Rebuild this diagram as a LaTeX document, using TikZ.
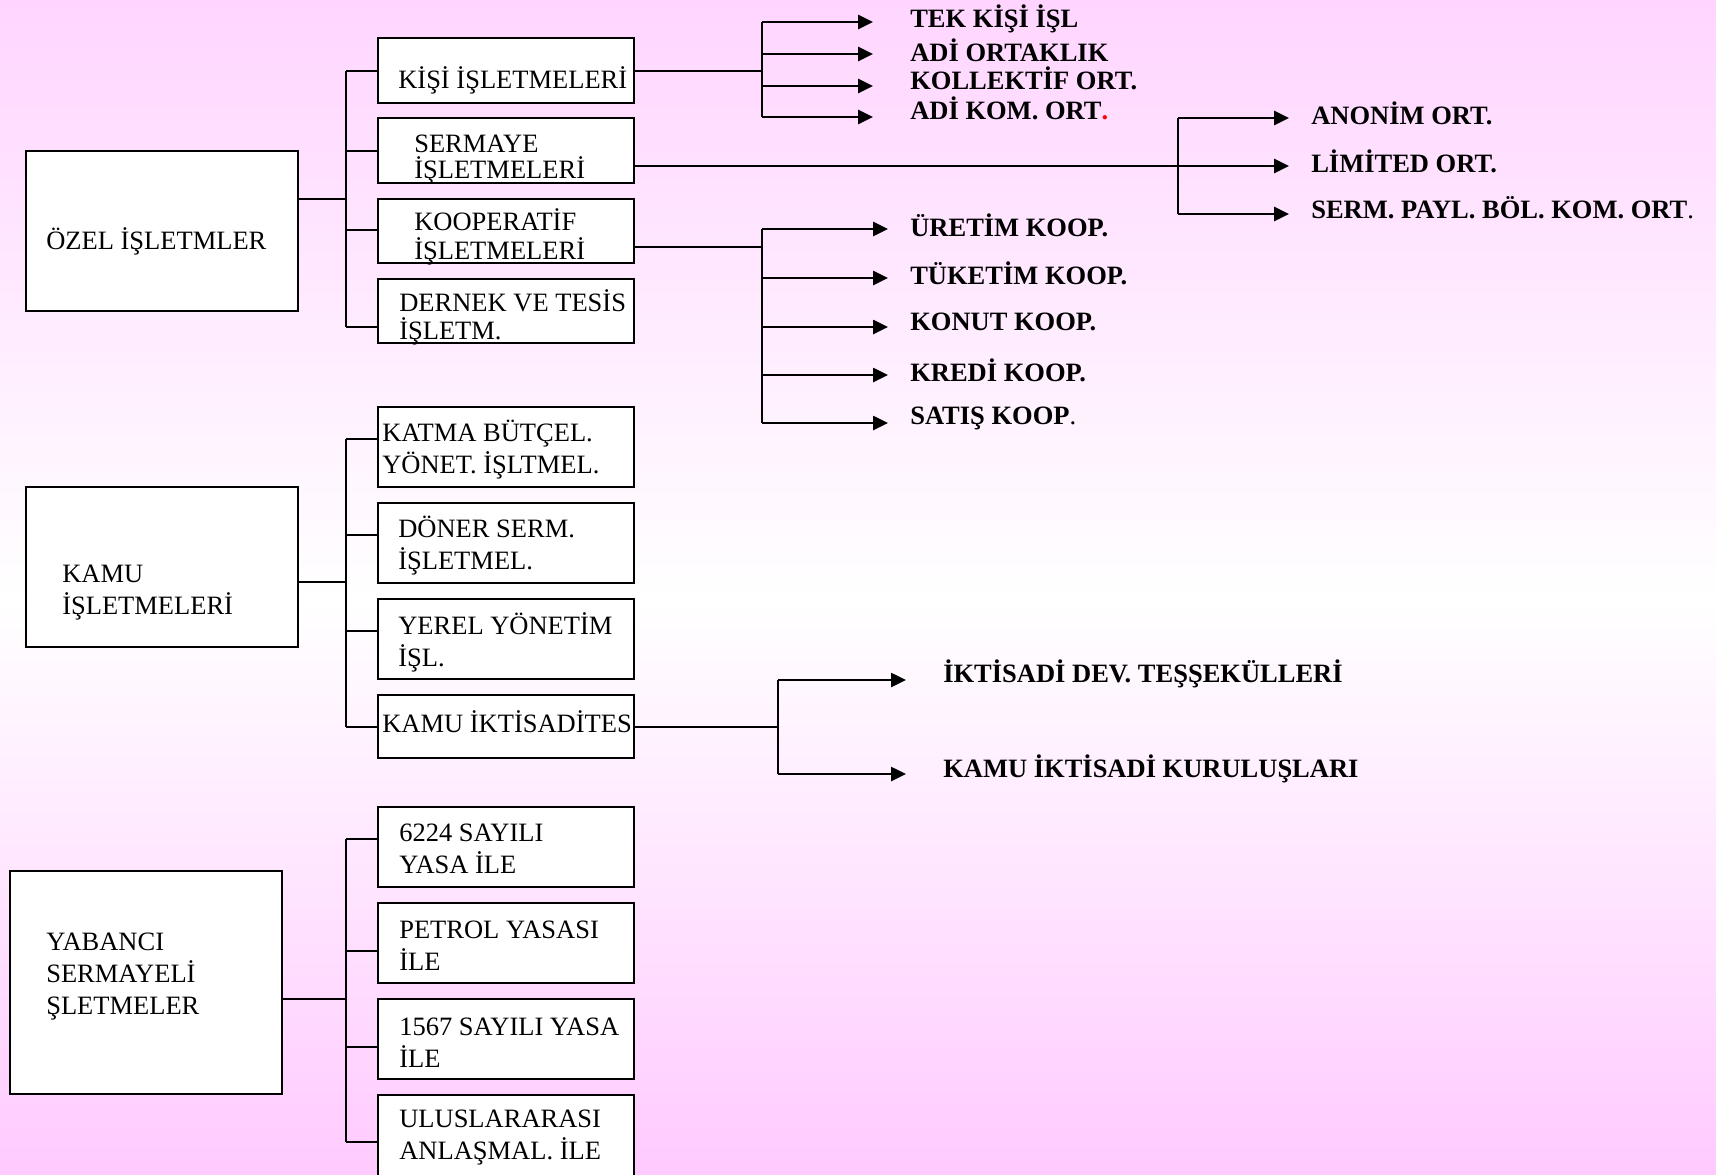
\documentclass[tikz,border=0pt]{standalone}
\usepackage{fontspec}
\setmainfont{Liberation Serif}
\usetikzlibrary{arrows.meta}
\tikzset{>={Triangle[length=7.5pt,width=7pt]}}
\definecolor{pinktop}{RGB}{255,213,255}
\definecolor{pinkbot}{RGB}{255,202,255}

\begin{document}
\begin{tikzpicture}[x=0.5pt,y=-0.5pt,line width=1.3pt,
  box/.style={draw,fill=white,line width=1.1pt,inner sep=0pt,minimum width=128pt,minimum height=#1},
  box/.default=40pt,
  mainbox/.style={box=#1,minimum width=136pt},
  txt/.style={anchor=west,inner sep=0pt,align=left,font=\fontsize{13.25}{16}\selectfont},
  lbl/.style={anchor=west,inner sep=0pt,font=\bfseries\fontsize{13.25}{16}\selectfont},
  arr/.style={->,shorten >=#1},
  arr/.default=10.5pt]
\useasboundingbox (0,0) rectangle (1716,1174);
\shade[top color=pinktop,bottom color=white] (0,0) rectangle (1716,600);
\shade[top color=white,bottom color=pinkbot] (0,600) rectangle (1716,1174);

% main boxes
\node[mainbox=80pt] (ozel) at (162,231) {};
\node[mainbox=80pt] (kamu) at (162,567) {};
\node[mainbox=111.5pt] (yab) at (146,982.5) {};
\node[txt] (tozel) at (45,241) {ÖZEL İŞLETMLER};
\node[txt] (tkamu) at (61,592.5) {KAMU\\İŞLETMELERİ};
\node[txt] (tyab) at (45,977) {YABANCI\\SERMAYELİ\\ŞLETMELER};

% second column
\node[box=32.5pt] (kisi) at (506,70.5) {};
\node[box=32.5pt] (serm) at (506,150.5) {};
\node[box=32pt] (koop) at (506,231) {};
\node[box=32pt] (dern) at (506,311) {};
\node[box] (katma) at (506,447) {};
\node[box] (doner) at (506,543) {};
\node[box] (yerel) at (506,639) {};
\node[box=31.5pt] (kikt) at (506,726.5) {};
\node[box] (y6224) at (506,847) {};
\node[box] (petrol) at (506,943) {};
\node[box] (y1567) at (506,1039) {};
\node[box=42pt] (ulus) at (506,1137) {};

\node[txt] (tkisi) at (397,80) {KİŞİ İŞLETMELERİ};
\node[txt] (tserm) at (413,159.5) {SERMAYE\\[-3pt]İŞLETMELERİ};
\node[txt] (tkoop) at (413,237) {KOOPERATİF\\[-1.5pt]İŞLETMELERİ};
\node[txt] (tdern) at (398,317) {DERNEK VE TESİS\\[-2pt]İŞLETM.};
\node[txt] (tkatma) at (381,450) {KATMA BÜTÇEL.\\YÖNET. İŞLTMEL.};
\node[txt] (tdoner) at (397,545.5) {DÖNER SERM.\\İŞLETMEL.};
\node[txt] (tyerel) at (397,642) {YEREL YÖNETİM\\İŞL.};
\node[txt] (tkikt) at (381,722) {KAMU İKTİSADİTES};
\node[txt] (t6224) at (398,849) {6224 SAYILI\\YASA İLE};
\node[txt] (tpetrol) at (398,946) {PETROL YASASI\\İLE};
\node[txt] (t1567) at (398,1042.5) {1567 SAYILI YASA\\İLE};
\node[txt] (tulus) at (398,1138) {ULUSLARARASI\\ANLAŞMAL. İLE};

% right hand labels
\node[lbl] (tek) at (909,19) {TEK KİŞİ İŞL};
\node[lbl] (adi) at (909,50) {ADİ ORTAKLIK};
\node[lbl] (koll) at (909,78) {KOLLEKTİF ORT.};
\node[lbl] (adikom) at (909,108) {ADİ KOM. ORT\textcolor{red}{.}};
\node[lbl] (anonim) at (1310,113) {ANONİM ORT.};
\node[lbl] (limited) at (1310,161) {LİMİTED ORT.};
\node[lbl] (spbko) at (1310,208) {SERM. PAYL. BÖL. KOM. ORT\textmd{.}};
\node[lbl] (uretim) at (909,225) {ÜRETİM KOOP.};
\node[lbl] (tuketim) at (909,273) {TÜKETİM KOOP.};
\node[lbl] (konut) at (909,322) {KONUT KOOP.};
\node[lbl] (kredi) at (909,370) {KREDİ KOOP.};
\node[lbl] (satis) at (909,418) {SATIŞ KOOP\textmd{.}};
\node[lbl] (idt) at (942,674) {İKTİSADİ DEV. TEŞŞEKÜLLERİ};
\node[lbl] (kik) at (942,769) {KAMU İKTİSADİ KURULUŞLARI};

% left buses
\coordinate (oj) at (346,199);
\coordinate (o1) at (346,71);
\coordinate (o2) at (346,151);
\coordinate (o3) at (346,230);
\coordinate (o4) at (346,327);
\draw (ozel.east |- oj) -- (oj);
\draw (o1) -- (o4);
\draw (o1) -- (o1 -| kisi.west) (o2) -- (o2 -| serm.west)
      (o3) -- (o3 -| koop.west) (o4) -- (o4 -| dern.west);

\coordinate (kj) at (346,582);
\coordinate (k1) at (346,439);
\coordinate (k2) at (346,535);
\coordinate (k3) at (346,631);
\coordinate (k4) at (346,727);
\draw (kamu.east |- kj) -- (kj);
\draw (k1) -- (k4);
\draw (k1) -- (k1 -| katma.west) (k2) -- (k2 -| doner.west)
      (k3) -- (k3 -| yerel.west) (k4) -- (k4 -| kikt.west);

\coordinate (yj) at (346,999);
\coordinate (y1) at (346,839);
\coordinate (y2) at (346,951);
\coordinate (y3) at (346,1047);
\coordinate (y4) at (346,1142);
\draw (yab.east |- yj) -- (yj);
\draw (y1) -- (y4);
\draw (y1) -- (y1 -| y6224.west) (y2) -- (y2 -| petrol.west)
      (y3) -- (y3 -| y1567.west) (y4) -- (y4 -| ulus.west);

% right buses
\coordinate (aj) at (762,71);
\coordinate (a1) at (762,22);
\coordinate (a2) at (762,54);
\coordinate (a3) at (762,86);
\coordinate (a4) at (762,117);
\draw (kisi.east |- aj) -- (aj);
\draw (a1) -- (a4);
\draw[arr=18pt] (a1) -- (a1 -| tek.west);
\draw[arr=18pt] (a2) -- (a2 -| adi.west);
\draw[arr=18pt] (a3) -- (a3 -| koll.west);
\draw[arr=18pt] (a4) -- (a4 -| adikom.west);

\coordinate (b1) at (1178,118);
\coordinate (b2) at (1178,166);
\coordinate (b3) at (1178,214);
\draw (serm.east |- b2) -- (b2);
\draw (b1) -- (b3);
\draw[arr] (b1) -- (b1 -| anonim.west);
\draw[arr] (b2) -- (b2 -| limited.west);
\draw[arr] (b3) -- (b3 -| spbko.west);

\coordinate (cj) at (762,247);
\coordinate (c1) at (762,229);
\coordinate (c2) at (762,278);
\coordinate (c3) at (762,327);
\coordinate (c4) at (762,375);
\coordinate (c5) at (762,423);
\draw (koop.east |- cj) -- (cj);
\draw (c1) -- (c5);
\draw[arr] (c1) -- (c1 -| uretim.west);
\draw[arr] (c2) -- (c2 -| tuketim.west);
\draw[arr] (c3) -- (c3 -| konut.west);
\draw[arr] (c4) -- (c4 -| kredi.west);
\draw[arr] (c5) -- (c5 -| satis.west);

\coordinate (dj) at (778,727);
\coordinate (d1) at (778,680);
\coordinate (d2) at (778,774);
\draw (kikt.east |- dj) -- (dj);
\draw (d1) -- (d2);
\draw[arr=18pt] (d1) -- (d1 -| idt.west);
\draw[arr=18pt] (d2) -- (d2 -| kik.west);
\end{tikzpicture}
\end{document}
